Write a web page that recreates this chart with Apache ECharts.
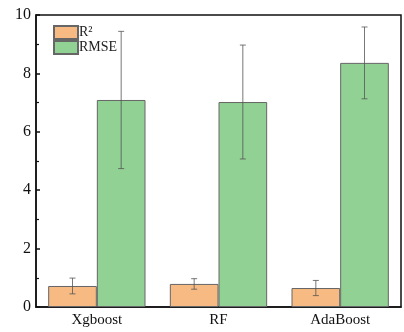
<!DOCTYPE html>
<html><head><meta charset="utf-8">
<script src="https://cdn.jsdelivr.net/npm/echarts@6/dist/echarts.min.js"></script>
<style>html,body{margin:0;padding:0;background:#fff}#c{width:404px;height:332px}</style>
</head><body><div id="c"></div>
<script>
var categories = ['Xgboost', 'RF', 'AdaBoost'];
var r2Values = [0.72, 0.79, 0.65];
var r2Errors = [0.27, 0.18, 0.26];
var rmseValues = [7.09, 7.02, 8.36];
var rmseErrors = [2.35, 1.95, 1.23];
var yTicks = [0, 2, 4, 6, 8, 10];

var chart = echarts.init(document.getElementById('c'));
var font = '"Liberation Serif", "DejaVu Serif", serif';

function errSeries(name, vals, errs, offsetFrac) {
  return {
    type: 'custom', name: name + '_err', z: 5, silent: true,
    data: vals.map(function (v, i) { return [i, v - errs[i], v + errs[i]]; }),
    renderItem: function (params, api) {
      var i = api.value(0);
      var lo = api.coord([i, api.value(1)]);
      var hi = api.coord([i, api.value(2)]);
      var bw = api.size([1, 0])[0];
      var x = lo[0] + bw * offsetFrac;
      var cap = 3;
      var st = { stroke: '#555', lineWidth: 0.8 };
      return { type: 'group', children: [
        { type: 'line', shape: { x1: x, y1: lo[1], x2: x, y2: hi[1] }, style: st },
        { type: 'line', shape: { x1: x - cap, y1: lo[1], x2: x + cap, y2: lo[1] }, style: st },
        { type: 'line', shape: { x1: x - cap, y1: hi[1], x2: x + cap, y2: hi[1] }, style: st }
      ]};
    }
  };
}

chart.setOption({
  animation: false,
  grid: { left: 36, right: 3, top: 15, bottom: 25, show: true, borderColor: '#111', borderWidth: 1.5 },
  legend: {
    orient: 'vertical', left: 48, top: 20, itemWidth: 24, itemHeight: 13, itemGap: 0,
    icon: 'rect',
    data: ['R²', 'RMSE'],
    textStyle: { fontFamily: font, fontSize: 14, color: '#222', padding: [0, 0, 0, -4] }
  },
  xAxis: {
    type: 'category', data: categories,
    axisLine: { lineStyle: { color: '#111', width: 1.5 } },
    axisTick: { show: false },
    axisLabel: { fontFamily: font, fontSize: 15, color: '#111', margin: 6 }
  },
  yAxis: {
    type: 'value', min: yTicks[0], max: yTicks[yTicks.length - 1], interval: 2,
    axisLine: { show: true, lineStyle: { color: '#111', width: 1.5 } },
    axisTick: { show: true, inside: true, length: 4, lineStyle: { color: '#111', width: 1.5 } },
    minorTick: { show: true, splitNumber: 2, length: 3, lineStyle: { color: '#111', width: 1.2 } },
    splitLine: { show: false },
    axisLabel: { fontFamily: font, fontSize: 16, color: '#111', margin: 5 }
  },
  series: [
    { name: 'R²', type: 'bar', data: r2Values, barWidth: '40%', barGap: '0%',
      itemStyle: { color: '#F7BA82', borderColor: '#666', borderWidth: 1 } },
    { name: 'RMSE', type: 'bar', data: rmseValues, barWidth: '40%', barGap: '0%',
      itemStyle: { color: '#91D193', borderColor: '#666', borderWidth: 1 } },
    errSeries('R²', r2Values, r2Errors, -0.2),
    errSeries('RMSE', rmseValues, rmseErrors, 0.2)
  ]
});
</script></body></html>
